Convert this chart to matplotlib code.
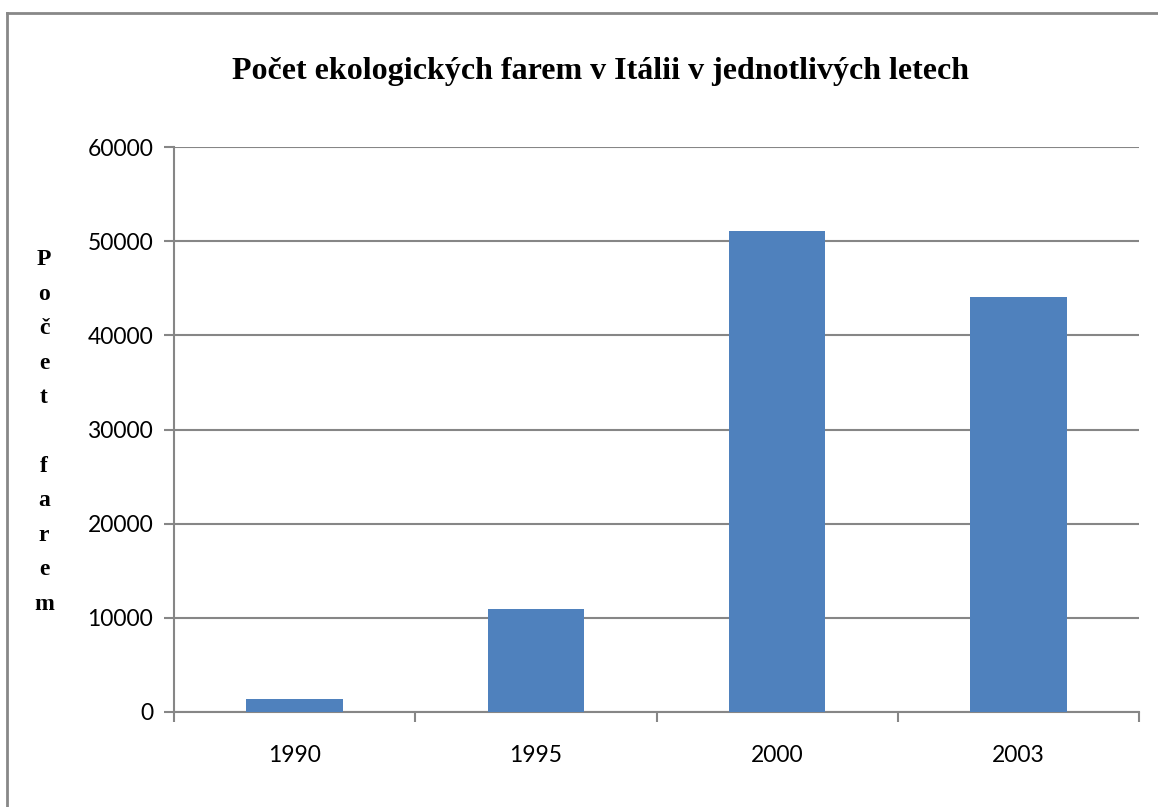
import matplotlib
matplotlib.use("Agg")
import matplotlib.pyplot as plt
from matplotlib.lines import Line2D

years = ["1990", "1995", "2000", "2003"]
farms = [1350, 10900, 51130, 44030]
yticks = [0, 10000, 20000, 30000, 40000, 50000, 60000]

title = "Počet ekologických farem v Itálii v jednotlivých letech"
ylabel = "Počet farem"

W, H = 1158, 807
fig = plt.figure(figsize=(W / 100, H / 100), dpi=100)
ax = fig.add_axes([174 / W, 1 - 712 / H, (1139 - 174) / W, (712 - 147) / H])

grey = "#868686"
x = list(range(len(years)))
ax.bar(x, farms, width=0.4, color="#4F81BD", zorder=3)
ax.set_xlim(-0.5, len(years) - 0.5)
ax.set_ylim(0, 60000)
ax.set_yticks(yticks)
ax.set_yticklabels([str(v) for v in yticks])
ax.set_xticks(x)
ax.set_xticklabels(years)
ax.set_xticks([i - 0.5 for i in range(len(years) + 1)], minor=True)
ax.tick_params(axis="x", which="major", length=0, pad=24)
ax.tick_params(axis="x", which="minor", length=7, width=1.5, color=grey)
ax.tick_params(axis="y", length=7, width=1.5, color=grey, pad=8)
for lab in ax.get_xticklabels() + ax.get_yticklabels():
    lab.set_fontfamily("Lato")
    lab.set_fontsize(16.5)

ax.grid(axis="y", color=grey, linewidth=1.5, zorder=0)
for s in ["top", "right"]:
    ax.spines[s].set_visible(False)
for s in ["left", "bottom"]:
    ax.spines[s].set_color(grey)
    ax.spines[s].set_linewidth(1.5)

fig.text(600 / W, 1 - 72 / H, title, ha="center", va="center",
         fontfamily="Liberation Serif", fontweight="bold", fontsize=23)

# y label written as stacked letters
letters = "\n".join("" if c == " " else c for c in ylabel)
fig.text(44 / W, 1 - 432 / H, letters, ha="center", va="center",
         fontfamily="Liberation Serif", fontweight="bold", fontsize=17,
         linespacing=1.84)

# outer chart border (only top and left edges visible in the crop)
fig.add_artist(Line2D([7 / W, 1], [1 - 13 / H, 1 - 13 / H], color="#888888", linewidth=2))
fig.add_artist(Line2D([7 / W, 7 / W], [1 - 13 / H, 0], color="#888888", linewidth=2))

fig.savefig("out.png", dpi=100)
